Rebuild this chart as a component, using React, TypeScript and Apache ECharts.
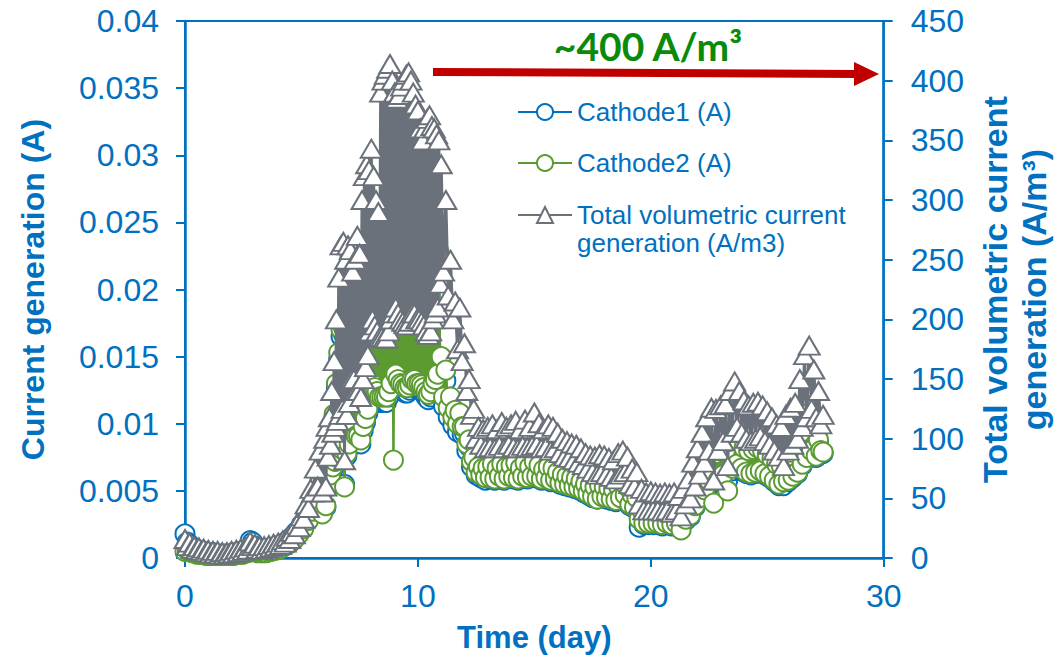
import React, { useEffect, useRef } from "react";
import * as echarts from "echarts";

// Time (day)
const days = [
  // 0 - 5.9
  0, 0.1, 0.2, 0.3, 0.4, 0.5, 0.6, 0.7, 0.8, 0.9,
  1, 1.1, 1.2, 1.3, 1.4, 1.5, 1.6, 1.7, 1.8, 1.9,
  2, 2.1, 2.2, 2.3, 2.4, 2.5, 2.6, 2.7, 2.8, 2.9,
  3, 3.1, 3.2, 3.3, 3.4, 3.5, 3.6, 3.7, 3.8, 3.9,
  4, 4.1, 4.2, 4.3, 4.4, 4.5, 4.6, 4.7, 4.8, 4.9,
  5, 5.1, 5.2, 5.3, 5.4, 5.5, 5.6, 5.7, 5.8, 5.9,
  // 6 - 10.95
  6, 6.05, 6.1, 6.15, 6.2, 6.25, 6.3, 6.35, 6.4, 6.45,
  6.5, 6.55, 6.6, 6.65, 6.7, 6.75, 6.8, 6.85, 6.9, 6.95,
  7, 7.05, 7.1, 7.15, 7.2, 7.25, 7.3, 7.35, 7.4, 7.45,
  7.5, 7.55, 7.6, 7.65, 7.7, 7.75, 7.8, 7.85, 7.9, 7.95,
  8, 8.05, 8.1, 8.15, 8.2, 8.25, 8.3, 8.35, 8.4, 8.45,
  8.5, 8.55, 8.6, 8.65, 8.7, 8.75, 8.8, 8.85, 8.9, 8.95,
  9, 9.05, 9.1, 9.15, 9.2, 9.25, 9.3, 9.35, 9.4, 9.45,
  9.5, 9.55, 9.6, 9.65, 9.7, 9.75, 9.8, 9.85, 9.9, 9.95,
  10, 10.05, 10.1, 10.15, 10.2, 10.25, 10.3, 10.35, 10.4, 10.45,
  10.5, 10.55, 10.6, 10.65, 10.7, 10.75, 10.8, 10.85, 10.9, 10.95,
  // 11 - 27.4
  11, 11.1, 11.2, 11.3, 11.4, 11.5, 11.6, 11.7, 11.8, 11.9,
  12, 12.1, 12.2, 12.3, 12.4, 12.5, 12.6, 12.7, 12.8, 12.9,
  13, 13.1, 13.2, 13.3, 13.4, 13.5, 13.6, 13.7, 13.8, 13.9,
  14, 14.1, 14.2, 14.3, 14.4, 14.5, 14.6, 14.7, 14.8, 14.9,
  15, 15.1, 15.2, 15.3, 15.4, 15.5, 15.6, 15.7, 15.8, 15.9,
  16, 16.1, 16.2, 16.3, 16.4, 16.5, 16.6, 16.7, 16.8, 16.9,
  17, 17.1, 17.2, 17.3, 17.4, 17.5, 17.6, 17.7, 17.8, 17.9,
  18, 18.1, 18.2, 18.3, 18.4, 18.5, 18.6, 18.7, 18.8, 18.9,
  19, 19.1, 19.2, 19.3, 19.4, 19.5, 19.6, 19.7, 19.8, 19.9,
  20, 20.1, 20.2, 20.3, 20.4, 20.5, 20.6, 20.7, 20.8, 20.9,
  21, 21.1, 21.2, 21.3, 21.4, 21.5, 21.6, 21.7, 21.8, 21.9,
  22, 22.1, 22.2, 22.3, 22.4, 22.5, 22.6, 22.7, 22.8, 22.9,
  23, 23.1, 23.2, 23.3, 23.4, 23.5, 23.6, 23.7, 23.8, 23.9,
  24, 24.1, 24.2, 24.3, 24.4, 24.5, 24.6, 24.7, 24.8, 24.9,
  25, 25.1, 25.2, 25.3, 25.4, 25.5, 25.6, 25.7, 25.8, 25.9,
  26, 26.1, 26.2, 26.3, 26.4, 26.5, 26.6, 26.7, 26.8, 26.9,
  27, 27.1, 27.2, 27.3, 27.4,
];

// Cathode1 (A)
const cathode1 = [
  0.0018, 0.0012, 0.001, 0.0008, 0.0007, 0.0006, 0.0006, 0.0005, 0.0005, 0.0004,
  0.0004, 0.0003, 0.0004, 0.0003, 0.0003, 0.0003, 0.0003, 0.0003, 0.0003, 0.0003,
  0.0003, 0.0003, 0.0004, 0.0004, 0.0005, 0.0005, 0.0006, 0.0006, 0.0013, 0.0012,
  0.0009, 0.0006, 0.0006, 0.0005, 0.0006, 0.0006, 0.0007, 0.0007, 0.0008, 0.0008,
  0.0009, 0.0009, 0.0011, 0.0011, 0.0013, 0.0013, 0.0016, 0.0016, 0.002, 0.002,
  0.0025, 0.0024, 0.0031, 0.003, 0.0039, 0.0037, 0.0048, 0.004, 0.0058, 0.0034,

  0.0063, 0.0038, 0.007, 0.0053, 0.0075, 0.006, 0.0088, 0.0066, 0.0104, 0.007,
  0.0126, 0.0073, 0.0148, 0.0076, 0.0165, 0.0079, 0.0167, 0.0055, 0.0158, 0.0076,
  0.0165, 0.0082, 0.0163, 0.0095, 0.0151, 0.0095, 0.0158, 0.0088, 0.0171, 0.0088,
  0.0161, 0.0085, 0.0189, 0.0095, 0.0202, 0.0101, 0.0209, 0.0108, 0.0205, 0.012,
  0.0216, 0.0126, 0.0202, 0.0123, 0.0189, 0.012, 0.0183, 0.0116, 0.0246, 0.0116,
  0.0252, 0.0116, 0.0255, 0.0116, 0.0259, 0.012, 0.0261, 0.0126, 0.0252, 0.0128,
  0.0246, 0.0133, 0.0243, 0.0129, 0.0244, 0.0126, 0.0249, 0.0125, 0.0252, 0.0123,
  0.0255, 0.0123, 0.0257, 0.0125, 0.0252, 0.0129, 0.0246, 0.0129, 0.024, 0.0126,
  0.0237, 0.0126, 0.0227, 0.0125, 0.0221, 0.0123, 0.0227, 0.012, 0.0232, 0.0118,
  0.0234, 0.012, 0.0228, 0.0126, 0.0227, 0.0129, 0.0224, 0.0133, 0.0221, 0.0146,

  0.0142, 0.0113, 0.0132, 0.0105, 0.0113, 0.0099, 0.0104, 0.0094, 0.0102, 0.0092,
  0.0093, 0.008, 0.0083, 0.0068, 0.0071, 0.0062, 0.0066, 0.006, 0.0065, 0.0058,
  0.0066, 0.0059, 0.0068, 0.0058, 0.0065, 0.006, 0.0068, 0.0058, 0.0066, 0.006,
  0.0067, 0.0059, 0.0069, 0.0058, 0.0065, 0.006, 0.0069, 0.0059, 0.0066, 0.006,
  0.007, 0.006, 0.0067, 0.0058, 0.0064, 0.0059, 0.0066, 0.0057, 0.0065, 0.0058,
  0.0062, 0.0055, 0.006, 0.0054, 0.0059, 0.0053, 0.0058, 0.0052, 0.0057, 0.0051,
  0.0055, 0.0049, 0.0053, 0.0047, 0.0052, 0.0045, 0.0051, 0.0044, 0.0052, 0.0045,
  0.0051, 0.0044, 0.005, 0.0043, 0.0049, 0.0042, 0.0052, 0.0044, 0.0054, 0.0046,
  0.0051, 0.0039, 0.0045, 0.0037, 0.0043, 0.0023, 0.0034, 0.0025, 0.0033, 0.0025,
  0.0033, 0.0025, 0.0032, 0.0025, 0.0032, 0.0024, 0.0032, 0.0025, 0.0032, 0.0024,
  0.0032, 0.0025, 0.0031, 0.0026, 0.0034, 0.0028, 0.0039, 0.0031, 0.0048, 0.0038,
  0.0055, 0.0044, 0.0063, 0.005, 0.0071, 0.0057, 0.0076, 0.0056, 0.0076, 0.0057,
  0.0078, 0.006, 0.0078, 0.0058, 0.0085, 0.0065, 0.0088, 0.0068, 0.0085, 0.0065,
  0.008, 0.0063, 0.0078, 0.0062, 0.0079, 0.0063, 0.008, 0.0064, 0.0078, 0.0062,
  0.0075, 0.006, 0.0072, 0.0057, 0.0068, 0.0054, 0.0067, 0.0054, 0.0073, 0.0057,
  0.0077, 0.006, 0.0079, 0.0063, 0.0091, 0.0069, 0.0103, 0.0074, 0.0106, 0.0079,
  0.0096, 0.0075, 0.0086, 0.0079, 0.0078,
];

// Cathode2 (A)
const cathode2 = [
  0.0005, 0.0006, 0.0005, 0.0004, 0.0004, 0.0003, 0.0003, 0.0003, 0.0003, 0.0002,
  0.0002, 0.0002, 0.0002, 0.0002, 0.0002, 0.0002, 0.0002, 0.0002, 0.0002, 0.0002,
  0.0002, 0.0002, 0.0003, 0.0003, 0.0003, 0.0003, 0.0004, 0.0004, 0.0008, 0.0007,
  0.0006, 0.0004, 0.0004, 0.0004, 0.0004, 0.0004, 0.0005, 0.0005, 0.0006, 0.0006,
  0.0007, 0.0007, 0.0009, 0.0009, 0.0011, 0.0011, 0.0014, 0.0014, 0.0018, 0.0018,
  0.0023, 0.0022, 0.0029, 0.0028, 0.0037, 0.0035, 0.0046, 0.0039, 0.0056, 0.0033,

  0.0065, 0.0039, 0.0072, 0.0055, 0.0077, 0.0062, 0.0091, 0.0068, 0.0107, 0.0072,
  0.013, 0.0075, 0.0153, 0.0078, 0.017, 0.0081, 0.0172, 0.0053, 0.0163, 0.0078,
  0.017, 0.0085, 0.0168, 0.0098, 0.0156, 0.0098, 0.0163, 0.0091, 0.0176, 0.0091,
  0.0166, 0.0088, 0.0195, 0.0098, 0.0208, 0.0104, 0.0215, 0.0111, 0.0211, 0.0124,
  0.0223, 0.013, 0.0208, 0.0127, 0.0195, 0.0124, 0.0189, 0.012, 0.0254, 0.012,
  0.026, 0.012, 0.0263, 0.012, 0.0267, 0.0124, 0.0269, 0.013, 0.026, 0.0073,
  0.0254, 0.0137, 0.025, 0.0133, 0.0252, 0.013, 0.0257, 0.0129, 0.026, 0.0127,
  0.0263, 0.0127, 0.0265, 0.0129, 0.026, 0.0133, 0.0254, 0.0133, 0.0247, 0.013,
  0.0244, 0.013, 0.0234, 0.0129, 0.0228, 0.0127, 0.0234, 0.0124, 0.0239, 0.0122,
  0.0241, 0.0124, 0.0235, 0.013, 0.0234, 0.0133, 0.0231, 0.0137, 0.0228, 0.015,

  0.015, 0.012, 0.014, 0.0112, 0.012, 0.0105, 0.011, 0.01, 0.0108, 0.0098,
  0.0098, 0.0085, 0.0088, 0.0072, 0.0075, 0.0064, 0.0068, 0.0062, 0.0067, 0.006,
  0.0068, 0.006, 0.007, 0.0059, 0.0067, 0.0061, 0.007, 0.0059, 0.0068, 0.0061,
  0.0069, 0.006, 0.0071, 0.0059, 0.0067, 0.0061, 0.0071, 0.006, 0.0068, 0.0061,
  0.0072, 0.0061, 0.0069, 0.0059, 0.0066, 0.006, 0.0068, 0.0058, 0.0067, 0.0059,
  0.0064, 0.0056, 0.0062, 0.0055, 0.0061, 0.0054, 0.006, 0.0053, 0.0059, 0.0052,
  0.0057, 0.005, 0.0055, 0.0048, 0.0054, 0.0046, 0.0053, 0.0044, 0.0054, 0.0046,
  0.0053, 0.0045, 0.0052, 0.0044, 0.0051, 0.0043, 0.0054, 0.0045, 0.0056, 0.0047,
  0.0053, 0.004, 0.0047, 0.0038, 0.0045, 0.0029, 0.0036, 0.0026, 0.0035, 0.0026,
  0.0035, 0.0026, 0.0034, 0.0026, 0.0034, 0.0025, 0.0034, 0.0026, 0.0034, 0.0025,
  0.0034, 0.0026, 0.0033, 0.0021, 0.0036, 0.0029, 0.0041, 0.0032, 0.005, 0.0039,
  0.0057, 0.0045, 0.0065, 0.0051, 0.0073, 0.0058, 0.0078, 0.0041, 0.0078, 0.0058,
  0.008, 0.0062, 0.008, 0.005, 0.0087, 0.0067, 0.009, 0.007, 0.0087, 0.0067,
  0.0082, 0.0064, 0.008, 0.0063, 0.0081, 0.0064, 0.0082, 0.0065, 0.008, 0.0063,
  0.0077, 0.0061, 0.0074, 0.0058, 0.007, 0.0055, 0.0069, 0.0057, 0.0075, 0.0058,
  0.0079, 0.0061, 0.0081, 0.0064, 0.0093, 0.007, 0.0105, 0.0075, 0.0108, 0.008,
  0.0098, 0.0076, 0.0088, 0.008, 0.0079,
];

// Total volumetric current generation (A/m3)
const totalVolumetric = [
  16, 10, 13, 8, 10, 7, 9, 6, 8, 5,
  7, 4, 6, 4, 6, 3, 5, 3, 5, 4,
  6, 4, 7, 5, 8, 6, 9, 7, 14, 10,
  12, 8, 10, 7, 10, 8, 11, 9, 12, 10,
  13, 11, 15, 13, 18, 16, 22, 20, 28, 26,
  35, 33, 45, 42, 58, 55, 75, 60, 90, 55,

  100, 60, 110, 85, 118, 95, 140, 105, 165, 110,
  200, 115, 235, 120, 262, 125, 265, 82, 250, 120,
  262, 130, 258, 150, 240, 150, 250, 140, 270, 140,
  255, 135, 300, 150, 320, 160, 330, 170, 325, 190,
  343, 200, 320, 195, 300, 190, 290, 185, 390, 185,
  400, 184, 405, 184, 410, 190, 414, 200, 400, 205,
  390, 210, 385, 205, 388, 200, 395, 198, 400, 196,
  405, 195, 407, 198, 400, 205, 390, 205, 380, 200,
  375, 200, 360, 198, 350, 195, 360, 190, 368, 187,
  371, 190, 362, 200, 360, 205, 355, 210, 350, 230,

  330, 240, 300, 220, 250, 200, 215, 175, 210, 165,
  180, 140, 150, 120, 125, 100, 110, 95, 108, 92,
  110, 93, 112, 92, 108, 94, 114, 92, 110, 95,
  112, 93, 115, 92, 108, 94, 116, 93, 110, 94,
  122, 95, 113, 92, 108, 93, 112, 90, 110, 92,
  105, 88, 100, 85, 98, 84, 96, 82, 95, 80,
  92, 78, 88, 75, 86, 72, 85, 70, 87, 72,
  86, 70, 84, 68, 82, 66, 88, 70, 90, 72,
  85, 62, 75, 60, 72, 45, 58, 40, 55, 40,
  56, 40, 55, 40, 54, 39, 55, 40, 54, 38,
  55, 40, 52, 35, 58, 45, 66, 50, 80, 60,
  92, 70, 105, 80, 118, 90, 126, 65, 125, 90,
  128, 98, 129, 77, 140, 105, 148, 110, 140, 105,
  132, 100, 128, 98, 130, 100, 131, 102, 128, 98,
  123, 95, 118, 90, 112, 85, 110, 77, 120, 90,
  126, 95, 130, 100, 150, 110, 170, 118, 178, 125,
  158, 118, 140, 112, 120,
];

const seriesNames = [
  "Cathode1 (A)",
  "Cathode2 (A)",
  "Total volumetric current\ngeneration (A/m3)",
];

const BLUE = "#0070C0";
const GREEN = "#5B9B32";
const GRAY = "#6A717A";
const RED = "#C00000";
const ANNOT_GREEN = "#0A8A0A";
const FONT = "'Liberation Sans', Arial, sans-serif";

export default function App() {
  const ref = useRef<HTMLDivElement>(null);

  useEffect(() => {
    if (!ref.current) return;
    const chart = echarts.init(ref.current, null, { renderer: "svg" });
    const pair = (vals: number[]) => days.map((d, i) => [d, vals[i]]);

    const axisCommon = {
      type: "value" as const,
      axisLine: { show: true, lineStyle: { color: BLUE, width: 2.5 } },
      axisTick: { show: true, inside: false, length: 9, lineStyle: { color: BLUE, width: 2 } },
      splitLine: { show: false },
    };

    chart.setOption({
      animation: false,
      backgroundColor: "#ffffff",
      grid: {
        left: 185,
        right: 171,
        top: 21,
        bottom: 94,
        show: true,
        borderColor: BLUE,
        borderWidth: 2,
      },
      xAxis: {
        ...axisCommon,
        min: 0,
        max: 30,
        interval: 10,
        name: "Time (day)",
        nameLocation: "middle",
        nameGap: 58,
        nameTextStyle: { color: BLUE, fontSize: 31, fontWeight: "bold", fontFamily: FONT, lineHeight: 36 },
        axisLabel: { color: BLUE, fontSize: 32, fontFamily: FONT, margin: 20, lineHeight: 36 },
      },
      yAxis: [
        {
          ...axisCommon,
          position: "left",
          min: 0,
          max: 0.04,
          interval: 0.005,
          name: "Current generation (A)",
          nameLocation: "middle",
          nameRotate: 90,
          nameGap: 134,
          nameTextStyle: { color: BLUE, fontSize: 32, fontWeight: "bold", fontFamily: FONT, lineHeight: 36 },
          axisLabel: { color: BLUE, fontSize: 32, fontFamily: FONT, margin: 26 },
        },
        {
          ...axisCommon,
          position: "right",
          min: 0,
          max: 450,
          interval: 50,
          name: "Total volumetric current\ngeneration (A/m³)",
          nameLocation: "middle",
          nameRotate: 90,
          nameGap: 80,
          nameTextStyle: {
            color: BLUE,
            fontSize: 34,
            fontWeight: "bold",
            fontFamily: FONT,
            lineHeight: 39,
            align: "center",
          },
          axisLabel: { color: BLUE, fontSize: 32, fontFamily: FONT, margin: 27 },
        },
      ],
      legend: [
        {
          data: [seriesNames[0], seriesNames[1]],
          orient: "vertical",
          left: 517,
          top: 97,
          padding: 0,
          itemGap: 21,
          itemWidth: 54,
          itemHeight: 20,
          selectedMode: false,
          textStyle: { color: BLUE, fontSize: 26, fontFamily: FONT, lineHeight: 30 },
        },
        {
          data: [seriesNames[2]],
          orient: "vertical",
          left: 517,
          top: 173,
          padding: 0,
          itemWidth: 54,
          itemHeight: 20,
          selectedMode: false,
          formatter: (name: string) => "\n" + name,
          textStyle: { color: BLUE, fontSize: 26, fontFamily: FONT, lineHeight: 28 },
        },
      ],
      series: [
        {
          name: seriesNames[0],
          type: "line",
          yAxisIndex: 0,
          data: pair(cathode1),
          symbol: "emptyCircle",
          symbolSize: 19,
          color: BLUE,
          lineStyle: { color: BLUE, width: 2.5 },
          itemStyle: { color: BLUE, borderColor: BLUE, borderWidth: 2.5 },
          z: 2,
        },
        {
          name: seriesNames[1],
          type: "line",
          yAxisIndex: 0,
          data: pair(cathode2),
          symbol: "emptyCircle",
          symbolSize: 19,
          color: GREEN,
          lineStyle: { color: GREEN, width: 2.5 },
          itemStyle: { color: GREEN, borderColor: GREEN, borderWidth: 2.5 },
          z: 3,
        },
        {
          name: seriesNames[2],
          type: "line",
          yAxisIndex: 1,
          data: pair(totalVolumetric),
          symbol: "emptyTriangle",
          symbolSize: [21, 18],
          color: GRAY,
          lineStyle: { color: GRAY, width: 3 },
          itemStyle: { color: GRAY, borderColor: GRAY, borderWidth: 3 },
          z: 4,
        },
      ],
      graphic: [
        {
          type: "line",
          z: 100,
          shape: { x1: 433, y1: 72, x2: 858, y2: 74 },
          style: { stroke: RED, lineWidth: 8 },
        },
        {
          type: "polygon",
          z: 100,
          shape: { points: [[854, 62], [879, 74], [854, 86]] },
          style: { fill: RED },
        },
        {
          type: "text",
          z: 100,
          x: 648,
          y: 46,
          style: {
            text: "~400 A/m³",
            fontSize: 39,
            fontWeight: "bold",
            fontFamily: "Lato, 'Open Sans', sans-serif",
            fill: ANNOT_GREEN,
            align: "center",
            verticalAlign: "middle",
          },
        },
      ],
    });

    return () => chart.dispose();
  }, []);

  return (
    <div
      ref={ref}
      style={{ position: "fixed", left: 0, top: 0, width: 1061, height: 660 }}
    />
  );
}
